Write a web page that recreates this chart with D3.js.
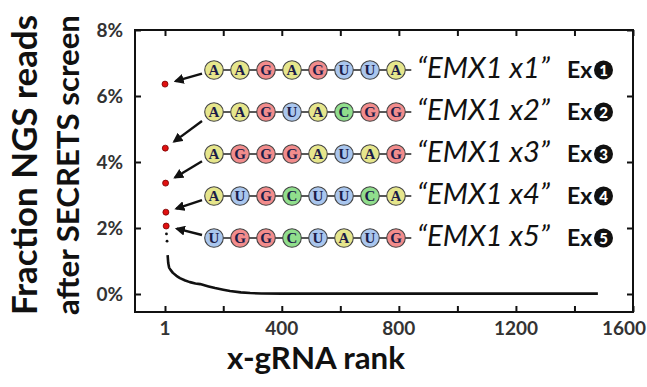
<!DOCTYPE html>
<html><head><meta charset="utf-8">
<script src="https://cdn.jsdelivr.net/npm/d3@7"></script>
<style>
html,body{margin:0;padding:0;background:#fff;}
svg{display:block;}
</style></head>
<body>
<svg id="chart" width="647" height="387"></svg>
<script>
// ---- data ----
const xTickValues = [1, 200, 400, 600, 800, 1000, 1200, 1400, 1600];
const xTickLabels = [1, 400, 800, 1200, 1600];
const yTickValues = [0, 2, 4, 6, 8];
const redRanks = [1, 2, 3, 4, 5];
const redValues = [6.36, 4.42, 3.36, 2.48, 2.06];
const blackDotRanks = [6, 8];
const blackDotValues = [1.82, 1.6];
const curveRanks = [10, 12, 15, 20, 28, 40, 52, 70, 86, 105, 121, 150, 172, 200, 223, 260, 292, 330, 400, 1480];
const curveValues = [1.18, 0.94, 0.8, 0.73, 0.64, 0.55, 0.48, 0.41, 0.36, 0.32, 0.3, 0.23, 0.18, 0.13, 0.09, 0.05, 0.03, 0.015, 0.01, 0.01];
const sequences = ["AAGAGUUA", "AAGUACGG", "AGGGAUAG", "AUGCUUCA", "UGGCUAUG"];
const seqLabels = ["“EMX1 x1”", "“EMX1 x2”", "“EMX1 x3”", "“EMX1 x4”", "“EMX1 x5”"];
const exNumbers = ["1", "2", "3", "4", "5"];
const yTitleLines = ["Fraction NGS reads", "after SECRETS screen"];
const xTitle = "x-gRNA rank";

// ---- layout ----
const svg = d3.select("#chart");
const L = 135, R = 633, T = 30, B = 312;
const x = d3.scaleLinear().domain([-101.5, 1600]).range([L, R]);
const y = d3.scaleLinear().domain([0, 8]).range([294, 30]);
const FONT = "Lato, 'Open Sans', sans-serif";
const ntFill = {A: "#e6e68c", G: "#f28c8c", U: "#a9c6ee", C: "#90de8c"};

function fit(sel, w) {
  const node = sel.node();
  const fs = parseFloat(sel.attr("font-size"));
  const cur = node.getComputedTextLength();
  sel.attr("font-size", (fs * w / cur).toFixed(2));
}

// frame
svg.append("rect").attr("x", L).attr("y", T).attr("width", R - L).attr("height", B - T)
  .attr("fill", "none").attr("stroke", "#111").attr("stroke-width", 2);

// ticks (inward) via axes
const tickLen = 6;
const gxB = svg.append("g").attr("transform", `translate(0,${B})`)
  .call(d3.axisTop(x).tickValues(xTickValues).tickSize(tickLen).tickFormat(""));
const gxT = svg.append("g").attr("transform", `translate(0,${T})`)
  .call(d3.axisBottom(x).tickValues(xTickValues).tickSize(tickLen).tickFormat(""));
const gyL = svg.append("g").attr("transform", `translate(${L},0)`)
  .call(d3.axisRight(y).tickValues(yTickValues).tickSize(tickLen).tickFormat(""));
const gyR = svg.append("g").attr("transform", `translate(${R},0)`)
  .call(d3.axisLeft(y).tickValues(yTickValues).tickSize(tickLen).tickFormat(""));
[gxB, gxT, gyL, gyR].forEach(g => {
  g.select(".domain").remove();
  g.selectAll("line").attr("stroke", "#111").attr("stroke-width", 2);
});

// tick labels
svg.append("g").selectAll("text").data(xTickLabels).join("text")
  .attr("x", (d, i) => i === xTickLabels.length - 1 ? 646 : x(d)).attr("y", 335)
  .attr("text-anchor", (d, i) => i === xTickLabels.length - 1 ? "end" : "middle")
  .attr("font-family", FONT).attr("font-weight", 700)
  .attr("font-size", 19).attr("fill", "#333").text(d => d);
svg.append("g").selectAll("text").data(yTickValues).join("text")
  .attr("x", 123).attr("y", d => y(d) + 7)
  .attr("text-anchor", "end").attr("font-family", FONT).attr("font-weight", 700)
  .attr("font-size", 19).attr("fill", "#333").text(d => d + "%");

// titles
yTitleLines.forEach((t, i) => {
  const tx = svg.append("text")
    .attr("transform", `translate(${[37, 79][i]},165) rotate(-90)`)
    .attr("text-anchor", "middle").attr("font-family", FONT).attr("font-weight", 700)
    .attr("font-size", 30).attr("fill", "#111").text(t);
  fit(tx, 300);
});
const xt = svg.append("text").attr("x", 316).attr("y", 369)
  .attr("text-anchor", "middle").attr("font-family", FONT).attr("font-weight", 700)
  .attr("font-size", 26).attr("fill", "#111").text(xTitle);
fit(xt, 178);

// curve
svg.append("path")
  .attr("d", d3.line().x(d => x(d[0])).y(d => y(d[1]))(curveRanks.map((r, i) => [r, curveValues[i]])))
  .attr("fill", "none").attr("stroke", "#111").attr("stroke-width", 2.6).attr("stroke-linejoin", "round");
svg.append("g").selectAll("circle").data(blackDotRanks).join("circle")
  .attr("cx", d => x(d)).attr("cy", (d, i) => y(blackDotValues[i])).attr("r", 1.4).attr("fill", "#111");

// red dots
svg.append("g").selectAll("circle").data(redRanks).join("circle")
  .attr("cx", d => x(d)).attr("cy", (d, i) => y(redValues[i])).attr("r", 3)
  .attr("fill", "#e01010").attr("stroke", "#700").attr("stroke-width", 0.8);

// arrow marker
svg.append("defs").append("marker").attr("id", "ah")
  .attr("viewBox", "0 0 10 10").attr("refX", 8).attr("refY", 5)
  .attr("markerWidth", 4.2).attr("markerHeight", 4.2).attr("orient", "auto")
  .attr("markerUnits", "strokeWidth")
  .append("path").attr("d", "M0,0 L10,5 L0,10 Z").attr("fill", "#111");

// sequence rows
const rowY = i => 70 + i * 42;
const c0 = 214, step = 26, rad = 9.3;
sequences.forEach((seq, i) => {
  const cy = rowY(i);
  const g = svg.append("g");
  const n = seq.length;
  g.append("line").attr("x1", c0).attr("x2", c0 + (n - 1) * step + rad + 6)
    .attr("y1", cy).attr("y2", cy).attr("stroke", "#222").attr("stroke-width", 1.3);
  seq.split("").forEach((nt, k) => {
    const cx = c0 + k * step;
    g.append("circle").attr("cx", cx).attr("cy", cy).attr("r", rad)
      .attr("fill", ntFill[nt]).attr("stroke", "#444").attr("stroke-width", 1.1);
    g.append("text").attr("x", cx).attr("y", cy + 5).attr("text-anchor", "middle")
      .attr("font-family", "'Liberation Serif', 'DejaVu Serif', serif").attr("font-weight", 700)
      .attr("font-size", 15).attr("fill", "#1c1c48").text(nt);
  });
  const lt = svg.append("text").attr("x", 417).attr("y", cy + 8)
    .attr("font-family", FONT).attr("font-style", "italic").attr("font-size", 24)
    .attr("fill", "#111").text(seqLabels[i]);
  fit(lt, 133);
  svg.append("text").attr("x", 567).attr("y", cy + 8)
    .attr("font-family", FONT).attr("font-weight", 700).attr("font-size", 23)
    .attr("fill", "#111").text("Ex");
  svg.append("circle").attr("cx", 603.5).attr("cy", cy).attr("r", 9.5).attr("fill", "#111");
  svg.append("text").attr("x", 603.5).attr("y", cy + 5.5).attr("text-anchor", "middle")
    .attr("font-family", FONT).attr("font-weight", 900).attr("font-size", 15)
    .attr("fill", "#fff").text(exNumbers[i]);

  // arrow from row to red dot
  const dx = x(redRanks[i]), dy = y(redValues[i]);
  const tx0 = 202, ty0 = cy + 0.25 * (dy - cy);
  const vx = tx0 - dx, vy = ty0 - dy, len = Math.hypot(vx, vy);
  const hx = dx + vx / len * 11, hy = dy + vy / len * 11;
  svg.append("line").attr("x1", tx0).attr("y1", ty0).attr("x2", hx).attr("y2", hy)
    .attr("stroke", "#111").attr("stroke-width", 2.4).attr("marker-end", "url(#ah)");
});
</script>
</body></html>
